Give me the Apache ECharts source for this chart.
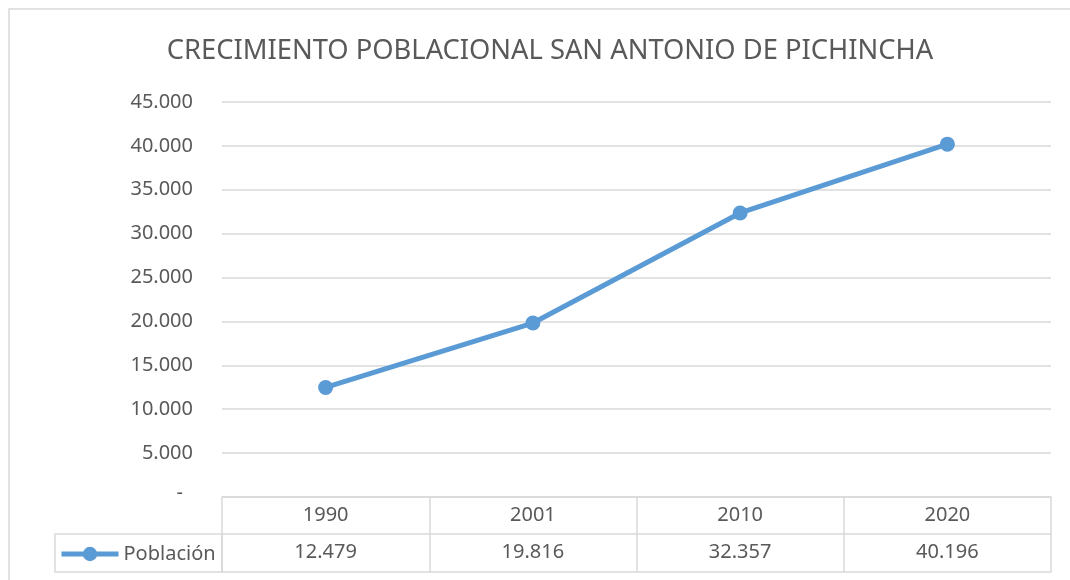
<!DOCTYPE html>
<html>
<head>
<meta charset="utf-8">
<script src="https://cdn.jsdelivr.net/npm/echarts@6/dist/echarts.min.js"></script>
<style>
  html, body { margin: 0; padding: 0; background: #fff; }
  #chart { width: 1070px; height: 580px; }
</style>
</head>
<body>
<div id="chart"></div>
<script>
var titleText = 'CRECIMIENTO POBLACIONAL SAN ANTONIO DE PICHINCHA';
var years = ['1990', '2001', '2010', '2020'];
var poblacion = [12479, 19816, 32357, 40196];
var seriesName = 'Población';

// separador de miles con punto
function fmt(v) {
  return String(v).replace(/\B(?=(\d{3})+(?!\d))/g, '.');
}

var gris = '#d9d9d9';
var texto = '#595959';
var azul = '#5b9bd5';
var fuente = 'Noto Sans';

var chart = echarts.init(document.getElementById('chart'));
chart.setOption({
  animation: false,
  title: {
    text: titleText,
    left: 545,
    top: 33,
    textAlign: 'center',
    textStyle: { fontFamily: fuente, fontWeight: 'normal', fontSize: 27.3, color: texto }
  },
  legend: {
    left: 59,
    top: 544,
    padding: 0,
    itemWidth: 57,
    itemHeight: 18,
    itemGap: 5,
    data: [seriesName],
    lineStyle: { width: 5 },
    textStyle: { fontFamily: fuente, fontSize: 20, color: texto }
  },
  grid: { left: 222, right: 19, top: 102, bottom: 83 },
  xAxis: [
    {
      type: 'category',
      data: years,
      position: 'bottom',
      axisLine: { lineStyle: { color: gris, width: 1.5 } },
      axisTick: { show: true, length: 37, lineStyle: { color: gris, width: 1.5 } },
      axisLabel: { margin: 8, fontFamily: fuente, fontSize: 20, color: texto }
    },
    {
      type: 'category',
      data: poblacion.map(fmt),
      position: 'bottom',
      offset: 37,
      axisLine: { lineStyle: { color: gris, width: 1.5 } },
      axisTick: { show: true, length: 38, lineStyle: { color: gris, width: 1.5 } },
      axisLabel: { margin: 8, fontFamily: fuente, fontSize: 20, color: texto }
    },
    {
      type: 'category',
      data: years,
      position: 'bottom',
      offset: 75,
      axisLine: { lineStyle: { color: gris, width: 1.5 } },
      axisTick: { show: false },
      axisLabel: { show: false }
    }
  ],
  yAxis: {
    type: 'value',
    min: 0,
    max: 45000,
    interval: 5000,
    axisLine: { show: false },
    axisTick: { show: false },
    splitLine: { lineStyle: { color: gris, width: 1.5 } },
    axisLabel: {
      margin: 29,
      fontFamily: fuente,
      fontSize: 20,
      color: texto,
      formatter: function (v) { return v === 0 ? '{z|-}' : fmt(v); },
      rich: { z: { fontFamily: fuente, fontSize: 20, color: texto, padding: [0, 10, 8, 0] } }
    }
  },
  graphic: [
    {
      type: 'rect',
      shape: { x: 9, y: 9, width: 1080, height: 600 },
      style: { fill: 'none', stroke: gris, lineWidth: 1.5 },
      silent: true
    },
    {
      type: 'rect',
      shape: { x: 55, y: 534, width: 167, height: 38 },
      style: { fill: 'none', stroke: gris, lineWidth: 1.5 },
      silent: true
    }
  ],
  series: [
    {
      name: seriesName,
      type: 'line',
      data: poblacion,
      symbol: 'circle',
      symbolSize: 15,
      lineStyle: { color: azul, width: 5 },
      itemStyle: { color: azul }
    }
  ]
});
</script>
</body>
</html>
